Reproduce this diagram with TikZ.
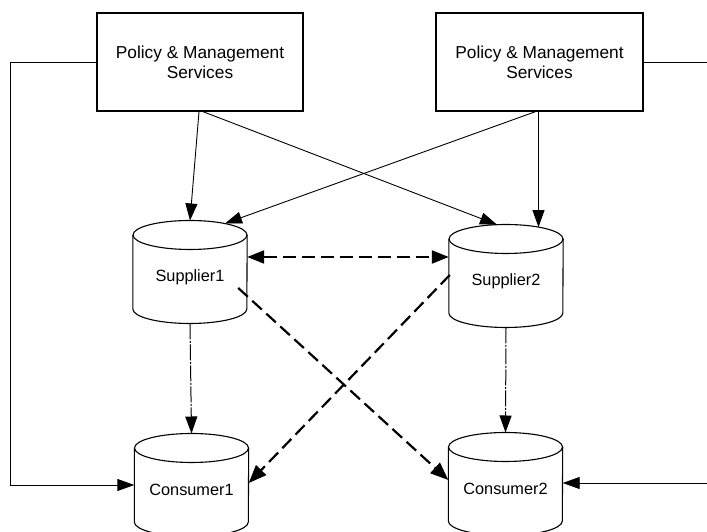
\documentclass[tikz,border=0pt]{standalone}
\usepackage{fontspec}
\setmainfont{Liberation Sans}
\usetikzlibrary{arrows.meta,calc}

\tikzset{
  panel/.style={draw, line width=1.3pt, minimum width=206pt, minimum height=98pt,
    inner sep=0pt, align=center, font=\fontsize{17.3}{20}\selectfont},
  store/.style={minimum width=114pt, inner sep=0pt, font=\fontsize{16.3}{20}\selectfont},
  drumline/.style={line width=1.1pt},
  tip/.style={-{Triangle[length=17pt,width=12pt]}},
  control/.style={tip, line width=0.9pt},
  replica/.style={line width=2.2pt, dash pattern=on 13pt off 6pt},
  feed/.style={tip, line width=1pt, dash pattern=on 16pt off 1.5pt on 2pt off 1.5pt},
}

% cylinder drawn round a store node; its label sits at the node centre
\newcommand\drum[1]{%
  \draw[drumline] ($(#1.center)+(0,42)$) ellipse[x radius=57, y radius=14.5];
  \draw[drumline] ($(#1.west)+(0,42)$) -- ($(#1.west)+(0,-32)$)
    arc[start angle=180, end angle=360, x radius=57, y radius=14.5]
    -- ($(#1.east)+(0,42)$);
  \coordinate (#1-top) at ($(#1.center)+(0,56.5)$);
  \coordinate (#1-bot) at ($(#1.center)+(0,-46.5)$);
}

\begin{document}
\begin{tikzpicture}[x=1pt, y=1pt]
  \useasboundingbox (0,0) rectangle (707,532);

  % management boxes
  \node[panel] (b1) at (200,470) {Policy \& Management\\Services};
  \node[panel, minimum width=207pt] (b2) at (539.5,470) {Policy \& Management\\Services};

  % suppliers and consumers
  \node[store] (s1) at (190,255) {Supplier1};
  \node[store] (s2) at (506,251) {Supplier2};
  \node[store] (c1) at (191.5,42) {Consumer1};
  \node[store] (c2) at (505.5,43) {Consumer2};
  \drum{s1}
  \drum{s2}
  \drum{c1}
  \drum{c2}

  % management links to the suppliers
  \draw[control] ($(b1.south)+(-1,0)$) -- (s1-top);
  \draw[control] ($(b1.south)+(3,0)$) -- ($(s2-top)+(-9,-0.2)$);
  \draw[control] ($(b2.south)+(-4,0)$) -- ($(s1-top)+(35,-3)$);
  \draw[control] ($(b2.south)+(-1,0)$) -- ($(s2-top)+(32.5,-2.6)$);

  % management links to the consumers
  \coordinate (lc) at (10,470);
  \coordinate (rc) at (712,470);
  \draw[control] (b1.west) -- (lc) |- ($(c1.west)+(0,5)$);
  \draw[control] (b2.east) -- (rc) |- ($(c2.east)+(0,6)$);

  % supplier replication
  \coordinate (h) at ($(s1.east)+(0,20)$);
  \draw[replica, {Triangle[length=17pt,width=13pt]}-{Triangle[length=17pt,width=13pt]}]
    (h) -- (h -| s2.west);
  \draw[replica, -{Triangle[length=18pt,width=14pt]}]
    ($(s1.east)+(-9,-11)$) -- ($(c2.west)+(0,9)$);
  \draw[replica, -{Triangle[length=18pt,width=14pt]}]
    ($(s2.west)+(1,6)$) -- ($(c1.east)+(0,7)$);

  % supplier to consumer feeds
  \draw[feed] (s1-bot) -- (c1-top);
  \draw[feed] (s2-bot) -- (c2-top);
\end{tikzpicture}
\end{document}
